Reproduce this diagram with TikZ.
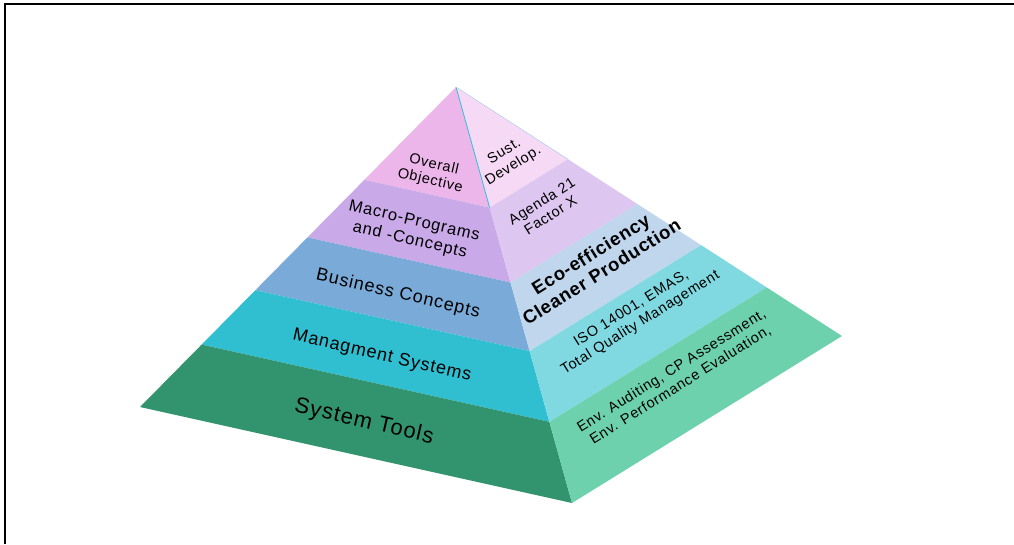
\documentclass[tikz,border=0pt]{standalone}
\usepackage{fontspec}
\setmainfont{Liberation Sans}
\usetikzlibrary{calc}

% face colours, top to bottom
\definecolor{objL}{HTML}{EDB6EA}
\definecolor{macL}{HTML}{C9A9E8}
\definecolor{busL}{HTML}{7AAAD8}
\definecolor{manL}{HTML}{2FBFD0}
\definecolor{toolL}{HTML}{31946E}
\definecolor{objR}{HTML}{F6DAF5}
\definecolor{macR}{HTML}{DDC6EF}
\definecolor{busR}{HTML}{BFD6EC}
\definecolor{manR}{HTML}{80D9E1}
\definecolor{toolR}{HTML}{6DD1AD}

\begin{document}
\begin{tikzpicture}[x=1pt,y=-1pt,
  lefttxt/.style={align=center, inner sep=0pt, rotate=-13},
  righttxt/.style={align=center, inner sep=0pt, rotate=32}]
  \useasboundingbox (0,0) rectangle (1014,544);

  % Frame
  \draw[line width=1.5pt] (5,544) -- (5,4) -- (1014,4);

  % Corners of the pyramid
  \coordinate (A) at (456,87);   % apex
  \coordinate (L) at (140,407);  % left
  \coordinate (F) at (572,503);  % front
  \coordinate (R) at (842,336);  % right

  % Left face bands
  \foreach \a/\b/\c in {0/0.29/objL, 0.29/0.47/macL, 0.47/0.635/busL,
                        0.635/0.805/manL, 0.805/1/toolL} {
    \fill[\c] ($(A)!\a!(L)$) -- ($(A)!\b!(L)$) -- ($(A)!\b!(F)$) -- ($(A)!\a!(F)$) -- cycle;
  }

  % Right face bands
  \foreach \a/\b/\c in {0/0.29/objR, 0.29/0.47/macR, 0.47/0.635/busR,
                        0.635/0.805/manR, 0.805/1/toolR} {
    \fill[\c] ($(A)!\a!(F)$) -- ($(A)!\b!(F)$) -- ($(A)!\b!(R)$) -- ($(A)!\a!(R)$) -- cycle;
  }

  % Ridge and top edge
  \draw[manL, line width=0.8pt] (A) -- ($(A)!0.29!(F)$);
  \draw[busL!60, line width=0.5pt] (A) -- ($(A)!0.29!(R)$);

  % Left face labels
  \node[lefttxt, font=\fontsize{14.5}{16.5}\selectfont\addfontfeature{LetterSpace=5}] (objective) at (432,173) {Overall\\Objective};
  \node[lefttxt, font=\fontsize{16.5}{19.5}\selectfont\addfontfeature{LetterSpace=5}] (macro) at (412,231) {Macro-Programs\\and -Concepts};
  \node[lefttxt, font=\fontsize{18}{20}\selectfont\addfontfeature{LetterSpace=5}] (business) at (398,294) {Business Concepts};
  \node[lefttxt, font=\fontsize{18}{20}\selectfont\addfontfeature{LetterSpace=5}] (managment) at (382,356) {Managment Systems};
  \node[lefttxt, font=\fontsize{22}{24}\selectfont\addfontfeature{LetterSpace=5}] (tools) at (364,422) {System Tools};

  % Right face labels
  \node[righttxt, font=\fontsize{14.5}{17}\selectfont\addfontfeature{LetterSpace=5}] (sust) at (509,159) {Sust.\\Develop.};
  \node[righttxt, font=\fontsize{14.5}{16.5}\selectfont\addfontfeature{LetterSpace=5}] (agenda) at (546,208) {Agenda 21\\Factor X};
  \node[righttxt, font=\fontsize{18.5}{20.5}\selectfont\bfseries\addfontfeature{LetterSpace=4}] (eco) at (596,263) {Eco-efficiency\\Cleaner Production};
  \node[righttxt, font=\fontsize{14.5}{17}\selectfont\addfontfeature{LetterSpace=5}] (iso) at (636,316) {ISO 14001, EMAS,\\Total Quality Management};
  \node[righttxt, font=\fontsize{14.5}{17}\selectfont\addfontfeature{LetterSpace=5}] (audit) at (676,378) {Env. Auditing, CP Assessment,\\Env. Performance Evaluation,};
\end{tikzpicture}
\end{document}
